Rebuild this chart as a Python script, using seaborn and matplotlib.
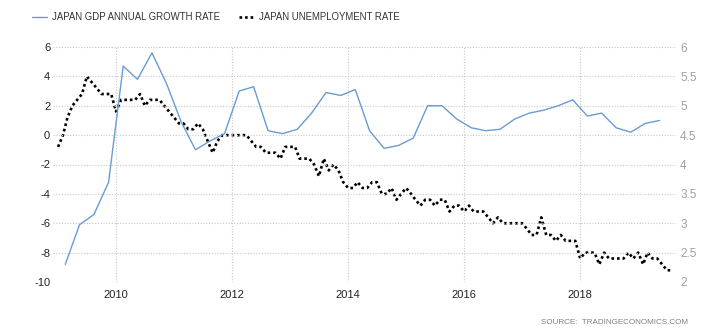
import matplotlib
matplotlib.use("Agg")
import matplotlib.pyplot as plt
import seaborn as sns
import pandas as pd
import numpy as np

# Japan GDP annual growth rate (%), quarterly, 2009 Q1 - 2019 Q2
gdp_start = "2009Q1"
gdp_growth = [
    -8.8, -6.1, -5.4, -3.2,
    4.7, 3.8, 5.6, 3.5,
    0.9, -1.0, -0.4, 0.1,
    3.0, 3.3, 0.3, 0.1,
    0.4, 1.5, 2.9, 2.7,
    3.1, 0.3, -0.9, -0.7,
    -0.2, 2.0, 2.0, 1.1,
    0.5, 0.3, 0.4, 1.1,
    1.5, 1.7, 2.0, 2.4,
    1.3, 1.5, 0.5, 0.2,
    0.8, 1.0,
]

# Japan unemployment rate (%), monthly, Jan 2009 - Aug 2019
unemp_start = "2009-01-01"
unemployment = [
    4.3, 4.5, 4.8, 5.0, 5.1, 5.2, 5.5, 5.4, 5.3, 5.2, 5.2, 5.2,
    4.9, 5.1, 5.1, 5.1, 5.1, 5.2, 5.0, 5.1, 5.1, 5.1, 5.0, 4.9,
    4.8, 4.7, 4.7, 4.6, 4.6, 4.7, 4.6, 4.4, 4.2, 4.4, 4.5, 4.5,
    4.5, 4.5, 4.5, 4.5, 4.4, 4.3, 4.3, 4.2, 4.2, 4.2, 4.1, 4.3,
    4.3, 4.3, 4.1, 4.1, 4.1, 4.0, 3.8, 4.1, 3.9, 4.0, 3.9, 3.7,
    3.6, 3.6, 3.7, 3.6, 3.6, 3.7, 3.7, 3.5, 3.5, 3.6, 3.4, 3.5,
    3.6, 3.5, 3.4, 3.3, 3.4, 3.4, 3.3, 3.4, 3.4, 3.2, 3.3, 3.3,
    3.2, 3.3, 3.2, 3.2, 3.2, 3.1, 3.0, 3.1, 3.0, 3.0, 3.0, 3.0,
    3.0, 2.9, 2.8, 2.8, 3.1, 2.8, 2.8, 2.7, 2.8, 2.7, 2.7, 2.7,
    2.4, 2.5, 2.5, 2.5, 2.3, 2.5, 2.4, 2.4, 2.4, 2.4, 2.5, 2.4,
    2.5, 2.3, 2.5, 2.4, 2.4, 2.3, 2.2, 2.2,
]

left_ticks = [-10, -8, -6, -4, -2, 0, 2, 4, 6]
right_ticks = [2, 2.5, 3, 3.5, 4, 4.5, 5, 5.5, 6]
right_labels = ["2", "2.5", "3", "3.5", "4", "4.5", "5", "5.5", "6"]
year_ticks = [2010, 2012, 2014, 2016, 2018]

gdp_label = "JAPAN GDP ANNUAL GROWTH RATE"
unemp_label = "JAPAN UNEMPLOYMENT RATE"
source_text = "SOURCE:  TRADINGECONOMICS.COM"

# quarterly points are placed mid-quarter, monthly points at month start
gdp_dates = (pd.period_range(gdp_start, periods=len(gdp_growth), freq="Q")
             .to_timestamp(how="start") + pd.Timedelta(days=45))
unemp_dates = pd.date_range(unemp_start, periods=len(unemployment), freq="MS")
gdp_df = pd.DataFrame({"date": gdp_dates, "value": gdp_growth})
unemp_df = pd.DataFrame({"date": unemp_dates, "value": unemployment})

sns.set_theme(style="white")
plt.rcParams["font.family"] = ["Liberation Sans", "DejaVu Sans"]

W, H = 716, 335
fig = plt.figure(figsize=(W / 100, H / 100), dpi=100)
ax = fig.add_axes([53 / W, 53 / H, 623 / W, 235 / H])
ax2 = ax.twinx()

blue = "#6a9bd3"
grid_c = "#c8c8c8"

sns.lineplot(data=gdp_df, x="date", y="value", ax=ax, color=blue,
             linewidth=1.0, label=gdp_label, legend=False)
sns.lineplot(data=unemp_df, x="date", y="value", ax=ax2, color="black",
             linewidth=1.9, label=unemp_label, legend=False)
ax2.lines[0].set_linestyle((0, (1, 1.1)))

ax.set_ylim(-10, 6)
ax2.set_ylim(2, 6)
ax.set_xlim(pd.Timestamp("2008-11-30"), pd.Timestamp("2019-08-27"))

ax.set_yticks(left_ticks)
ax.set_yticklabels([str(v) for v in left_ticks])
ax2.set_yticks(right_ticks)
ax2.set_yticklabels(right_labels)
ax.set_xticks([pd.Timestamp(f"{y}-01-01") for y in year_ticks])
ax.set_xticklabels([str(y) for y in year_ticks])

ax.set_xlabel("")
ax.set_ylabel("")
ax2.set_ylabel("")

ax.grid(True, axis="both", color=grid_c, linestyle=(0, (1, 1.5)), linewidth=0.8)
ax2.grid(False)
for a in (ax, ax2):
    for s in a.spines.values():
        s.set_visible(False)

ax.tick_params(axis="y", length=0, pad=2, labelsize=8, labelcolor="#222222")
ax.tick_params(axis="x", length=0, pad=6, labelsize=8, labelcolor="#222222")
ax2.tick_params(axis="y", length=0, pad=3, labelsize=8.5, labelcolor="#a0a0a0")
ax.set_zorder(ax2.get_zorder() + 1)
ax.patch.set_visible(False)

handles = [ax.lines[0], ax2.lines[0]]
fig.legend(handles, [gdp_label, unemp_label], loc="center left",
           bbox_to_anchor=(32 / W, 1 - 17 / H), ncol=2, frameon=False,
           fontsize=6.9, handlelength=1.6, handletextpad=0.5,
           columnspacing=2.0, borderpad=0, borderaxespad=0,
           labelcolor="#333333")

fig.text(688 / W, 1 - 322 / H, source_text, ha="right", va="center",
         fontsize=5.8, color="#808080")

fig.savefig("out.png", dpi=100, facecolor="white")
